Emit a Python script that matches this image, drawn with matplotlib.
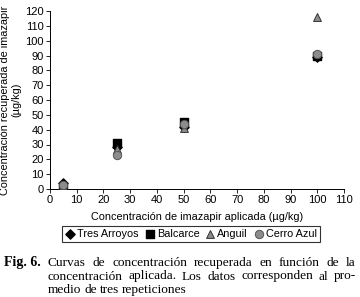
import numpy as np
import matplotlib.pyplot as plt

# data
applied = [5, 25, 50, 100]
tres_arroyos = [4, 28, 42, 89]
balcarce = [1, 31, 45, 90]
anguil = [3, 27, 41, 116]
cerro_azul = [3, 23, 44, 91]

series_names = ['Tres Arroyos', 'Balcarce', 'Anguil', 'Cerro Azul']
xticks = list(range(0, 111, 10))
yticks = list(range(0, 121, 10))

caption_lines = [
    'Curvas de concentración recuperada en función de la',
    'concentración aplicada. Los datos corresponden al pro-',
    'medio de tres repeticiones',
]

sans = 'Liberation Sans'
serif = 'Liberation Serif'

fig = plt.figure(figsize=(3.6, 2.97), dpi=100)
W, H = 360, 297
ax = fig.add_axes([50 / W, 1 - 189 / H, 294 / W, 178 / H])

ax.scatter(applied, tres_arroyos, marker='D', s=22, c='black', zorder=3, label=series_names[0])
ax.scatter(applied, balcarce, marker='s', s=26, c='black', zorder=3, label=series_names[1])
ax.scatter(applied, anguil, marker='^', s=32, c='#8c8c8c', edgecolors='#333333', linewidths=0.7,
           zorder=4, label=series_names[2])
ax.scatter(applied, cerro_azul, marker='o', s=36, c='#8c8c8c', edgecolors='#555555', linewidths=0.7,
           zorder=5, label=series_names[3])

ax.set_xlim(0, 110)
ax.set_ylim(0, 120)
ax.set_xticks(xticks)
ax.set_yticks(yticks)
for lab in ax.get_xticklabels() + ax.get_yticklabels():
    lab.set_fontfamily(sans)
    lab.set_fontsize(8)
ax.tick_params(direction='out', length=3, width=0.6, pad=1.5, color='black')
ax.spines['top'].set_visible(False)
ax.spines['right'].set_visible(False)
for s in ['left', 'bottom']:
    ax.spines[s].set_linewidth(0.7)

ax.set_xlabel('Concentración de imazapir aplicada (µg/kg)', fontfamily=sans, fontsize=7.8, labelpad=5)
ax.set_ylabel('Concentración recuperada de imazapir\n(µg/kg)', fontfamily=sans, fontsize=7.8,
              labelpad=3, linespacing=1.1)

leg = fig.legend(loc='center', bbox_to_anchor=(191 / W, 1 - 234 / H), ncol=4, frameon=True,
                 fancybox=False, edgecolor='black', borderpad=0.25, handletextpad=0.15,
                 columnspacing=0.5, handlelength=1.0, borderaxespad=0,
                 prop={'family': sans, 'size': 7.8})
leg.get_frame().set_linewidth(0.8)

# caption with justified lines
fig.text(4 / W, 1 - 266 / H, 'Fig. 6.', fontfamily=serif, fontweight='bold', fontsize=10,
         va='baseline', ha='left')
renderer = fig.canvas.get_renderer()
x0, x1 = 48, 356
for i, line in enumerate(caption_lines):
    y = 1 - (266 + 13.5 * i) / H
    words = line.split(' ')
    texts = [fig.text(0, y, w, fontfamily=serif, fontsize=9.6, va='baseline', ha='left') for w in words]
    widths = [t.get_window_extent(renderer).width for t in texts]
    if i < len(caption_lines) - 1:
        gap = (x1 - x0 - sum(widths)) / (len(words) - 1)
    else:
        gap = 3.0
    x = x0
    for t, wd in zip(texts, widths):
        t.set_x(x / W)
        x += wd + gap

fig.savefig('out.png', dpi=100)
